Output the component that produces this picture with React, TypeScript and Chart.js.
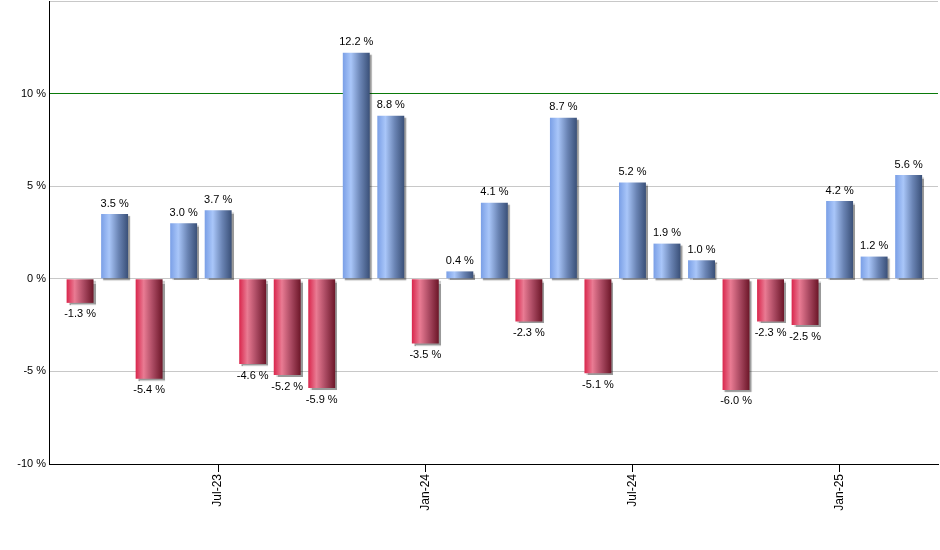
import React, { useEffect, useRef } from "react";
import { Chart, registerables } from "chart.js";

Chart.register(...registerables);

const months = [
  "Mar-23", "Apr-23", "May-23", "Jun-23", "Jul-23", "Aug-23", "Sep-23", "Oct-23", "Nov-23", "Dec-23",
  "Jan-24", "Feb-24", "Mar-24", "Apr-24", "May-24", "Jun-24", "Jul-24", "Aug-24", "Sep-24", "Oct-24",
  "Nov-24", "Dec-24", "Jan-25", "Feb-25", "Mar-25",
];
const values = [
  -1.3, 3.5, -5.4, 3.0, 3.7, -4.6, -5.2, -5.9, 12.2, 8.8,
  -3.5, 0.4, 4.1, -2.3, 8.7, -5.1, 5.2, 1.9, 1.0, -6.0,
  -2.3, -2.5, 4.2, 1.2, 5.6,
];
const tickMonths = ["Jul-23", "Jan-24", "Jul-24", "Jan-25"];
const yTicks = [-10, -5, 0, 5, 10, 15];

const FONT = "'Liberation Sans', Arial, sans-serif";
const BAR_PCT = 0.78;

function barGradient(context: any) {
  const chart = context.chart;
  const xs = chart.scales && chart.scales.x;
  const v = values[context.dataIndex];
  const pos = v >= 0;
  const fallback = pos ? "#7fa5ec" : "#d8264a";
  if (!xs) return fallback;
  const cx = xs.getPixelForValue(context.dataIndex);
  const step = Math.abs(xs.getPixelForValue(1) - xs.getPixelForValue(0));
  const w = step * BAR_PCT;
  if (!Number.isFinite(cx) || !Number.isFinite(w) || w <= 0) return fallback;
  const g = chart.ctx.createLinearGradient(cx - w / 2, 0, cx + w / 2, 0);
  if (pos) {
    g.addColorStop(0, "#7a9fe6");
    g.addColorStop(0.3, "#a9c6f9");
    g.addColorStop(0.65, "#6a84b4");
    g.addColorStop(1, "#3a5078");
  } else {
    g.addColorStop(0, "#d9264c");
    g.addColorStop(0.3, "#e97b93");
    g.addColorStop(0.65, "#a84860");
    g.addColorStop(1, "#6c1628");
  }
  return g;
}

const shadowPlugin = {
  id: "barShadow",
  beforeDatasetsDraw(chart: any) {
    const ctx = chart.ctx;
    ctx.save();
    ctx.shadowColor = "rgba(0,0,0,0.4)";
    ctx.shadowOffsetX = 2;
    ctx.shadowOffsetY = 2;
    ctx.shadowBlur = 1;
  },
  afterDatasetsDraw(chart: any) {
    chart.ctx.restore();
  },
};

const labelPlugin = {
  id: "barLabels",
  afterDatasetsDraw(chart: any) {
    const ctx = chart.ctx;
    const meta = chart.getDatasetMeta(0);
    ctx.save();
    ctx.font = `11px ${FONT}`;
    ctx.fillStyle = "#000";
    ctx.textAlign = "center";
    meta.data.forEach((el: any, i: number) => {
      const v = values[i];
      const txt = v.toFixed(1) + " %";
      if (v >= 0) {
        ctx.textBaseline = "bottom";
        ctx.fillText(txt, el.x, el.y - 5);
      } else {
        ctx.textBaseline = "top";
        ctx.fillText(txt, el.x, el.y + 6);
      }
    });
    ctx.restore();
  },
};

export default function App() {
  const ref = useRef<HTMLCanvasElement>(null);
  useEffect(() => {
    document.body.style.margin = "0";
    if (!ref.current) return;
    const chart = new Chart(ref.current, {
      type: "bar",
      data: {
        datasets: [
          {
            data: values.map((v, i) => ({ x: i, y: v })),
            backgroundColor: barGradient,
            borderWidth: 0,
            barPercentage: BAR_PCT,
            categoryPercentage: 1,
          },
        ],
      },
      options: {
        animation: false,
        responsive: false,
        layout: { padding: { top: 1, right: 2, left: 0, bottom: 0 } },
        plugins: {
          legend: { display: false },
          tooltip: { enabled: false },
        },
        scales: {
          x: {
            type: "linear",
            offset: false,
            min: -0.9,
            max: 24.85,
            afterBuildTicks: (axis: any) => {
              axis.ticks = tickMonths.map((m) => ({ value: months.indexOf(m) }));
            },
            afterFit: (scale: any) => {
              scale.height = 86;
              scale.paddingLeft = 0;
              scale.paddingRight = 0;
            },
            ticks: {
              autoSkip: false,
              minRotation: 90,
              maxRotation: 90,
              padding: 2,
              color: "#000",
              font: { family: FONT, size: 12 },
              callback: (value: any) => months[Math.round(Number(value))] ?? "",
            },
            grid: {
              offset: false,
              drawOnChartArea: false,
              drawTicks: true,
              tickLength: 8,
              color: "#000",
            },
            border: { color: "#000", width: 1 },
          },
          y: {
            min: -10,
            max: 15,
            afterBuildTicks: (axis: any) => {
              axis.ticks = yTicks.map((v) => ({ value: v }));
            },
            afterFit: (scale: any) => {
              scale.width = 49;
              scale.paddingTop = 0;
              scale.paddingBottom = 0;
            },
            ticks: {
              padding: 3,
              color: "#000",
              font: { family: FONT, size: 11 },
              callback: (value: any) => (Number(value) === 15 ? "" : `${value} %`),
            },
            grid: {
              drawTicks: false,
              color: (c: any) => (c.tick && c.tick.value === 10 ? "#0a7a0a" : "#c8c8c8"),
              lineWidth: 1,
            },
            border: { color: "#000", width: 1 },
          },
        },
      },
      plugins: [shadowPlugin, labelPlugin],
    });
    return () => chart.destroy();
  }, []);
  return (
    <div style={{ width: 940, height: 550 }}>
      <canvas ref={ref} width={940} height={550} />
    </div>
  );
}
